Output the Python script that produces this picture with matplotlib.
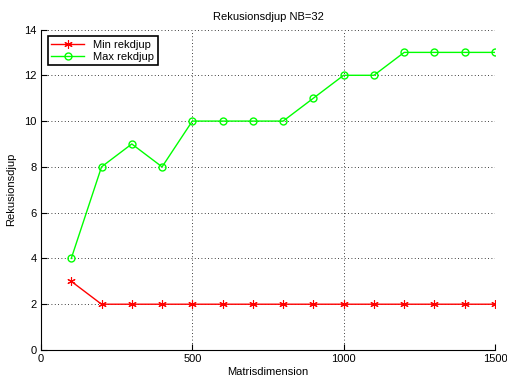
import matplotlib
matplotlib.use("Agg")
import matplotlib.pyplot as plt

plt.rcParams['font.family'] = ['Liberation Sans', 'DejaVu Sans']

# matrisstorlekar och uppmätt rekursionsdjup
matrisdim = [100, 200, 300, 400, 500, 600, 700, 800, 900, 1000, 1100, 1200, 1300, 1400, 1500]
min_djup = [3, 2, 2, 2, 2, 2, 2, 2, 2, 2, 2, 2, 2, 2, 2]
max_djup = [4, 8, 9, 8, 10, 10, 10, 10, 11, 12, 12, 13, 13, 13, 13]

fig = plt.figure(figsize=(5.07, 3.76), dpi=100)
ax = fig.add_axes([41/507, 1 - 350/376, (495 - 41)/507, (350 - 29.5)/376])

# asterisk-markör (6 strålar) för min, ofylld cirkel för max
ax.plot(matrisdim, min_djup, color='#ff0000', lw=1, marker=(6, 2, 0), ms=6, mew=0.8,
        label='Min rekdjup')
ax.plot(matrisdim, max_djup, color='#00ff00', lw=1, marker='o', ms=5, mfc='none',
        label='Max rekdjup')

ax.set_xlim(0, 1500)
ax.set_ylim(0, 14)
ax.set_xticks([0, 500, 1000, 1500])
ax.set_yticks(range(0, 15, 2))
ax.grid(True, color='black', linestyle=(0, (1, 3)), linewidth=0.6)
ax.tick_params(direction='in', length=4, width=0.8, labelsize=8, pad=3)
for side in ['top', 'right']:
    ax.spines[side].set_visible(False)
for side in ['left', 'bottom']:
    ax.spines[side].set_linewidth(0.8)

ax.set_title('Rekusionsdjup NB=32', fontsize=8, pad=7)
ax.set_xlabel('Matrisdimension', fontsize=8, labelpad=2)
ax.set_ylabel('Rekusionsdjup', fontsize=8, labelpad=6)

leg = ax.legend(loc='upper left', fontsize=8, fancybox=False, framealpha=1,
                edgecolor='black', borderpad=0.3, handlelength=3, labelspacing=0.2,
                borderaxespad=0.6)
leg.get_frame().set_linewidth(1.2)

fig.savefig('out.png', dpi=100)
